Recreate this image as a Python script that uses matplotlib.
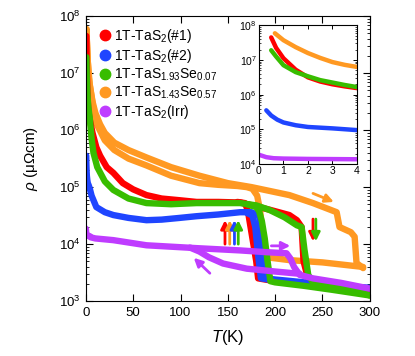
import numpy as np
import matplotlib
matplotlib.use("Agg")
import matplotlib.pyplot as plt
from matplotlib.lines import Line2D

plt.rcParams['font.family'] = ['Liberation Sans', 'DejaVu Sans']
plt.rcParams['mathtext.fontset'] = 'custom'
plt.rcParams['mathtext.rm'] = 'Liberation Sans'
plt.rcParams['mathtext.it'] = 'Liberation Sans:italic'

# ---------------- data (log10 of rho in micro-Ohm cm) ----------------
labels = ['1T-TaS$_2$(#1)', '1T-TaS$_2$(#2)', '1T-TaS$_{1.93}$Se$_{0.07}$',
          '1T-TaS$_{1.43}$Se$_{0.57}$', '1T-TaS$_2$(Irr)']
colors = ['#ff0000', '#1f45ff', '#38bd00', '#ff9922', '#bf3cff']

# sample 1: TaS2 (#1)
red_warm_T = [0.5, 0.7, 1, 1.5, 2, 2.5, 3, 3.5, 4, 7, 11, 15, 22, 29, 39, 50, 64, 80, 99, 117, 140, 163, 176, 195, 215, 223, 228, 230, 235, 250, 275, 300]
red_warm_L = [7.65, 7.35, 7.05, 6.72, 6.5, 6.38, 6.3, 6.24, 6.19, 5.95, 5.7, 5.55, 5.35, 5.25, 5.07, 4.96, 4.86, 4.8, 4.77, 4.74, 4.74, 4.73, 4.68, 4.6, 4.51, 4.42, 4.3, 3.7, 3.38, 3.3, 3.2, 3.12]
red_cool_T = [300, 250, 200, 182, 180, 177, 174, 171, 168, 160]
red_cool_L = [3.12, 3.25, 3.35, 3.4, 3.7, 4.0, 4.3, 4.6, 4.72, 4.74]

# sample 2: TaS2 (#2)
blue_warm_T = [0.3, 0.5, 0.75, 1, 1.5, 2, 3, 4, 6, 11, 20, 29, 45, 64, 80, 99, 117, 140, 163, 175, 183, 186, 189, 191, 200, 250, 300]
blue_warm_L = [5.55, 5.4, 5.28, 5.2, 5.12, 5.07, 5.03, 4.98, 4.85, 4.65, 4.56, 4.51, 4.46, 4.42, 4.43, 4.46, 4.49, 4.52, 4.56, 4.56, 4.5, 4.1, 3.6, 3.4, 3.38, 3.3, 3.23]
blue_cool_T = [300, 200, 185, 182, 179, 176, 170]
blue_cool_L = [3.23, 3.36, 3.4, 3.8, 4.3, 4.5, 4.55]

# sample 3: TaS1.93Se0.07
green_warm_T = [0.5, 0.7, 1, 1.5, 2, 2.5, 3, 3.5, 4, 6, 8, 12, 20, 29, 45, 64, 90, 117, 140, 163, 180, 194, 210, 223, 228, 231, 235, 240, 260, 293, 300]
green_warm_L = [7.28, 7.1, 6.85, 6.65, 6.53, 6.42, 6.35, 6.28, 6.22, 5.85, 5.6, 5.35, 5.1, 4.95, 4.8, 4.72, 4.7, 4.72, 4.72, 4.72, 4.68, 4.6, 4.47, 4.33, 4.3, 3.9, 3.46, 3.33, 3.25, 3.14, 3.1]
green_cool_T = [300, 260, 230, 200, 195, 192, 189, 186, 183, 180, 170]
green_cool_L = [3.1, 3.2, 3.27, 3.33, 3.35, 3.7, 4.1, 4.4, 4.58, 4.65, 4.7]

# sample 4: TaS1.43Se0.57
orange_warm_T = [0.65, 1, 1.5, 2, 2.5, 3, 3.5, 4, 7, 10, 15, 20, 30, 45, 64, 90, 120, 150, 175, 215, 240, 265, 268, 280, 284, 285, 286, 293]
orange_warm_L = [7.77, 7.57, 7.37, 7.2, 7.06, 6.94, 6.86, 6.8, 6.5, 6.3, 6.1, 5.95, 5.78, 5.65, 5.52, 5.35, 5.2, 5.07, 5.0, 4.86, 4.72, 4.56, 4.3, 4.21, 4.13, 3.9, 3.67, 3.58]
orange_cool_T = [293, 250, 215, 191, 188, 186, 184, 181, 176, 170, 160, 140, 120, 90, 64, 45, 30, 20, 10, 4, 2, 1, 0.65]
orange_cool_L = [3.6, 3.68, 3.72, 3.77, 4.0, 4.3, 4.6, 4.85, 4.97, 5.0, 5.02, 5.04, 5.07, 5.2, 5.38, 5.5, 5.65, 5.82, 6.15, 6.8, 7.2, 7.57, 7.77]

# sample 5: TaS2 (Irr)
purple_warm_T = [0, 0.3, 0.6, 1, 2, 4, 5, 10, 29, 64, 117, 140, 163, 190, 212, 216, 220, 226, 240, 270, 300]
purple_warm_L = [4.27, 4.2, 4.17, 4.16, 4.15, 4.14, 4.12, 4.1, 4.07, 3.98, 3.93, 3.91, 3.89, 3.86, 3.84, 3.75, 3.6, 3.46, 3.4, 3.32, 3.22]
purple_cool_T = [226, 200, 170, 145, 130, 120, 110]
purple_cool_L = [3.48, 3.52, 3.57, 3.66, 3.77, 3.87, 3.94]

# arrows: (T_start, logrho_start, T_end, logrho_end, colour index)
arrows = [
    (240, 4.89, 262, 4.74, 3),
    (240, 4.44, 240, 4.05, 0),
    (243, 4.44, 243, 4.05, 2),
    (147, 4.0, 147, 4.42, 0),
    (152, 4.0, 152, 4.42, 3),
    (157, 4.0, 157, 4.42, 1),
    (161, 4.0, 161, 4.42, 2),
    (196, 3.97, 216, 3.97, 4),
    (131, 3.49, 114, 3.76, 4),
]

series = [
    (red_warm_T, red_warm_L, red_cool_T, red_cool_L),
    (blue_warm_T, blue_warm_L, blue_cool_T, blue_cool_L),
    (green_warm_T, green_warm_L, green_cool_T, green_cool_L),
    (orange_warm_T, orange_warm_L, orange_cool_T, orange_cool_L),
    (purple_warm_T, purple_warm_L, purple_cool_T, purple_cool_L),
]
draw_order = [3, 0, 1, 2, 4]

fig = plt.figure(figsize=(4.15, 3.56), dpi=100)
ax = fig.add_axes([0.207, 0.154, 0.684, 0.801])

for i in draw_order:
    wT, wL, cT, cL = series[i]
    ax.plot(wT, 10 ** np.array(wL), color=colors[i], lw=4.6, solid_capstyle='round', solid_joinstyle='round')
    ax.plot(cT, 10 ** np.array(cL), color=colors[i], lw=4.6, solid_capstyle='round', solid_joinstyle='round')

for (t0, l0, t1, l1, ci) in arrows:
    ax.annotate('', xy=(t1, 10 ** l1), xytext=(t0, 10 ** l0),
                arrowprops=dict(arrowstyle='-|>,head_width=0.25,head_length=0.5',
                                color=colors[ci], lw=2.0, shrinkA=0, shrinkB=0))

ax.set_yscale('log')
ax.set_xlim(0, 300)
ax.set_ylim(1e3, 1e8)
ax.set_xticks([0, 50, 100, 150, 200, 250, 300])
ax.tick_params(which='both', direction='in', top=True, right=True, labelsize=9.5)
ax.tick_params(which='major', length=5, width=0.8)
ax.tick_params(which='minor', length=2.5, width=0.6)
ax.tick_params(axis='x', pad=4)
ax.set_xlabel('$\\mathit{T}$(K)', fontsize=12, labelpad=7)
ax.set_ylabel('$\\mathit{\\rho}$ (μΩcm)', fontsize=11, labelpad=14)

handles = [Line2D([], [], ls='none', marker='o', ms=7.5, color=c) for c in colors]
leg = ax.legend(handles, labels, loc='upper left', bbox_to_anchor=(0.01, 0.995), frameon=False,
                fontsize=10, handletextpad=0.1, labelspacing=0.12, borderaxespad=0.3,
                handlelength=1.0)

# inset
axi = fig.add_axes([0.624, 0.539, 0.236, 0.390])
for i in draw_order:
    wT, wL, cT, cL = series[i]
    axi.plot(wT, 10 ** np.array(wL), color=colors[i], lw=3.2, solid_capstyle='round')
axi.set_yscale('log')
axi.set_xlim(0, 4)
axi.set_ylim(1e4, 1e8)
axi.set_xticks([0, 1, 2, 3, 4])
axi.tick_params(which='both', direction='in', top=True, right=True, labelsize=7.5, pad=1.5)
axi.tick_params(which='major', length=3, width=0.7)
axi.tick_params(which='minor', length=1.5, width=0.5)

fig.savefig('out.png', dpi=100)
